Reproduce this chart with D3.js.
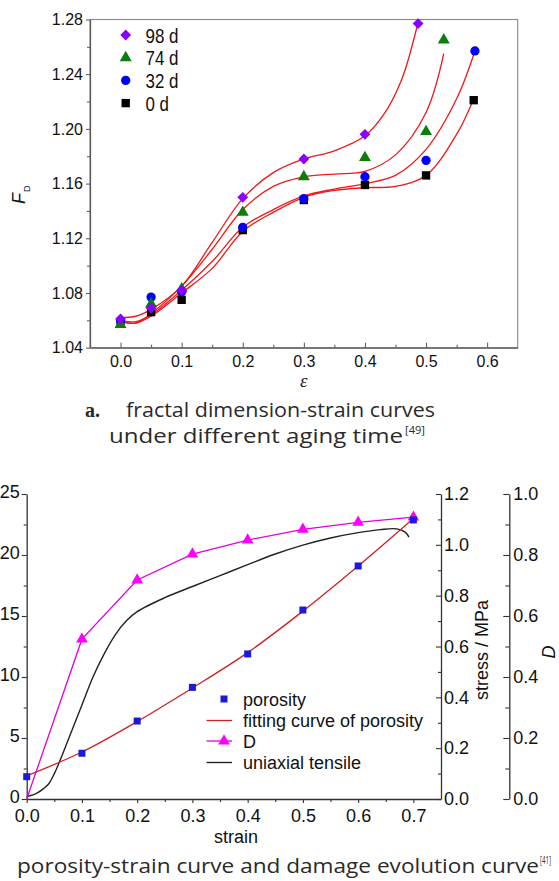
<!DOCTYPE html>
<html>
<head>
<meta charset="utf-8">
<script src="https://cdn.jsdelivr.net/npm/d3@7"></script>
<style>
  html, body { margin: 0; padding: 0; background: #fff; }
  svg { display: block; }
</style>
</head>
<body>
<svg id="fig" width="559" height="881"></svg>
<script>
// ---------- panel a: fractal dimension vs strain ----------
const agingLabels = ["98 d", "74 d", "32 d", "0 d"];
const agingColors = ["#8a00ff", "#0a7d0a", "#0000ff", "#000000"];
const agingSymbols = ["diamond", "triangle", "circle", "square"];

// measured points (strain, F_D)
const fd98Strain = [0, 0.05, 0.1, 0.2, 0.3, 0.4, 0.487];
const fd98Value  = [1.061, 1.069, 1.082, 1.150, 1.178, 1.196, 1.277];
const fd74Strain = [0, 0.05, 0.1, 0.2, 0.3, 0.4, 0.5, 0.529];
const fd74Value  = [1.057, 1.072, 1.083, 1.139, 1.165, 1.179, 1.198, 1.265];
const fd32Strain = [0, 0.05, 0.1, 0.2, 0.3, 0.4, 0.5, 0.58];
const fd32Value  = [1.060, 1.077, 1.081, 1.128, 1.149, 1.165, 1.177, 1.257];
const fd0Strain  = [0, 0.05, 0.1, 0.2, 0.3, 0.4, 0.5, 0.578];
const fd0Value   = [1.058, 1.066, 1.075, 1.126, 1.148, 1.159, 1.166, 1.221];

// fitted curves (strain, F_D)
const fit98Strain = [0, 0.025, 0.05, 0.1, 0.15, 0.2, 0.25, 0.3, 0.35, 0.4, 0.43, 0.46, 0.487];
const fit98Value  = [1.062, 1.063, 1.068, 1.085, 1.117, 1.149, 1.168, 1.178, 1.184, 1.195, 1.210, 1.236, 1.278];
const fit74Strain = [0, 0.025, 0.05, 0.1, 0.15, 0.2, 0.25, 0.3, 0.35, 0.4, 0.45, 0.5, 0.529];
const fit74Value  = [1.059, 1.058, 1.065, 1.085, 1.112, 1.141, 1.158, 1.165, 1.167, 1.169, 1.181, 1.212, 1.255];
const fit32Strain = [0, 0.025, 0.05, 0.1, 0.15, 0.2, 0.25, 0.3, 0.35, 0.4, 0.45, 0.5, 0.55, 0.58];
const fit32Value  = [1.060, 1.059, 1.064, 1.082, 1.103, 1.128, 1.141, 1.151, 1.156, 1.160, 1.166, 1.185, 1.222, 1.257];
const fit0Strain  = [0, 0.025, 0.05, 0.1, 0.15, 0.2, 0.25, 0.3, 0.35, 0.4, 0.45, 0.5, 0.55, 0.577];
const fit0Value   = [1.059, 1.058, 1.063, 1.080, 1.098, 1.125, 1.139, 1.150, 1.155, 1.157, 1.158, 1.166, 1.196, 1.221];

const fdTicks = [1.04, 1.08, 1.12, 1.16, 1.20, 1.24, 1.28];
const strainTicksA = [0.0, 0.1, 0.2, 0.3, 0.4, 0.5, 0.6];

// ---------- panel b: porosity, stress and damage vs strain ----------
const porStrain = [0, 0.1, 0.2, 0.3, 0.4, 0.5, 0.6, 0.7];
const porosity  = [1.83, 3.75, 6.39, 9.15, 11.89, 15.49, 19.1, 22.87];
const porFit    = [1.9, 3.85, 6.35, 9.1, 12.0, 15.4, 19.1, 23.0];
const damage    = [0, 0.524, 0.718, 0.803, 0.849, 0.884, 0.907, 0.924];
const tensStrain = [0, 0.01, 0.02, 0.03, 0.04, 0.05, 0.06, 0.08, 0.1, 0.12, 0.14, 0.16, 0.18, 0.2,
                    0.25, 0.3, 0.35, 0.4, 0.45, 0.5, 0.55, 0.6, 0.64, 0.67, 0.685, 0.692];
const tensStress = [0.01, 0.015, 0.025, 0.04, 0.06, 0.1, 0.15, 0.26, 0.37, 0.48, 0.57, 0.645, 0.70, 0.737,
                    0.792, 0.836, 0.879, 0.922, 0.964, 0.999, 1.027, 1.048, 1.060, 1.063, 1.05, 1.03];
const porTicks    = [0, 5, 10, 15, 20, 25];
const stressTicks = [0, 0.2, 0.4, 0.6, 0.8, 1.0, 1.2];
const damageTicks = [0, 0.2, 0.4, 0.6, 0.8, 1.0];
const strainTicksB = [0, 0.1, 0.2, 0.3, 0.4, 0.5, 0.6, 0.7];
const legendB = ["porosity", "fitting curve of porosity", "D", "uniaxial tensile"];

const svg = d3.select("#fig");
const SANS = '"Liberation Sans", Arial, sans-serif';
const CAP = '"Open Sans", Lato, sans-serif';

// rotated-square marker, r = half diagonal
const diamondPath = r => `M0,${-r}L${r},0L0,${r}L${-r},0Z`;
const symTypes = { triangle: d3.symbolTriangle, circle: d3.symbolCircle, square: d3.symbolSquare };
const symSizes = { triangle: 62, circle: 68, square: 70 };
const markerPath = s => s === "diamond" ? diamondPath(5.4) : d3.symbol().type(symTypes[s]).size(symSizes[s])();

// ================= panel a =================
const A = { l: 90, r: 517.7, t: 19.5, b: 347.7 };
const xA = d3.scaleLinear().domain([-0.05, 0.65]).range([A.l, A.r]);
const yA = d3.scaleLinear().domain([1.04, 1.28]).range([A.b, A.t]);
const gA = svg.append("g");

// frame
gA.append("rect").attr("x", A.l).attr("y", A.t).attr("width", A.r - A.l).attr("height", A.b - A.t)
  .attr("fill", "none").attr("stroke", "#888").attr("stroke-width", 1.1);

const yAxisA = d3.axisLeft(yA).tickValues(fdTicks).tickFormat(d3.format(".2f")).tickSize(4).tickSizeOuter(0).tickPadding(3);
const yMinorA = d3.axisLeft(yA).tickValues(d3.range(1.06, 1.28, 0.04)).tickFormat("").tickSize(3).tickSizeOuter(0);
const xAxisA = d3.axisBottom(xA).tickValues(strainTicksA).tickFormat(d3.format(".1f")).tickSizeInner(-5).tickSizeOuter(0).tickPadding(8);
const xMinorA = d3.axisBottom(xA).tickValues(d3.range(0.05, 0.6, 0.1)).tickFormat("").tickSizeInner(-3).tickSizeOuter(0);

function styleAxis(g, fs) {
  g.select(".domain").attr("stroke", "#555").attr("stroke-width", 1.2);
  g.selectAll(".tick line").attr("stroke", "#555").attr("stroke-width", 1);
  g.selectAll(".tick text").style("font-size", fs + "px").style("font-family", SANS).attr("fill", "#111");
}
gA.append("g").attr("transform", `translate(${A.l},0)`).call(yAxisA).call(g => styleAxis(g, 16));
gA.append("g").attr("transform", `translate(${A.l},0)`).call(yMinorA).call(g => styleAxis(g, 16)).select(".domain").remove();
gA.append("g").attr("transform", `translate(0,${A.b})`).call(xAxisA).call(g => styleAxis(g, 16));
gA.append("g").attr("transform", `translate(0,${A.b})`).call(xMinorA).call(g => styleAxis(g, 16)).select(".domain").remove();

// axis titles
const fLab = gA.append("text").attr("transform", "translate(25,204) rotate(-90)")
  .style("font-family", SANS).style("font-size", "18px").style("font-style", "italic").attr("fill", "#111");
fLab.append("tspan").text("F");
fLab.append("tspan").text("D").style("font-size", "9px").style("font-style", "normal").attr("dx", "1").attr("dy", "5");
gA.append("text").attr("x", xA(0.3)).attr("y", 387).attr("text-anchor", "middle")
  .style("font-family", '"Liberation Serif", serif').style("font-size", "19px").style("font-style", "italic")
  .attr("fill", "#222").text("ε");

// fitted curves
const fitSets = [[fit98Strain, fit98Value], [fit74Strain, fit74Value], [fit32Strain, fit32Value], [fit0Strain, fit0Value]];
const lineA = d3.line().x(d => xA(d[0])).y(d => yA(d[1])).curve(d3.curveCatmullRom.alpha(0.5));
fitSets.forEach(([xs, ys]) => {
  gA.append("path").datum(d3.zip(xs, ys)).attr("d", lineA)
    .attr("fill", "none").attr("stroke", "#f01818").attr("stroke-width", 1.3);
});

// markers, lower series first so the upper ones sit on top
const pointSets = [[fd98Strain, fd98Value], [fd74Strain, fd74Value], [fd32Strain, fd32Value], [fd0Strain, fd0Value]];
[3, 2, 1, 0].forEach(i => {
  const [xs, ys] = pointSets[i];
  gA.append("g").selectAll("path").data(d3.zip(xs, ys)).join("path")
    .attr("transform", d => `translate(${xA(d[0])},${yA(d[1])})`)
    .attr("d", markerPath(agingSymbols[i])).attr("fill", agingColors[i]);
});

// legend
const legWidths = [33, 33, 33, 23.5];
agingLabels.forEach((lab, i) => {
  const y = 35 + i * 22.7;
  gA.append("path").attr("transform", `translate(125.7,${y})`)
    .attr("d", markerPath(agingSymbols[i])).attr("fill", agingColors[i]);
  gA.append("text").attr("x", 145.5).attr("y", y + 7.5).text(lab)
    .attr("textLength", legWidths[i]).attr("lengthAdjust", "spacingAndGlyphs")
    .style("font-family", SANS).style("font-size", "21px").attr("fill", "#111");
});

// caption a
const capA1 = svg.append("g").style("font-family", CAP).style("font-size", "20px").attr("fill", "#2a2a2a");
capA1.append("text").attr("x", 85).attr("y", 417).text("a.")
  .style("font-family", '"Liberation Serif", serif').style("font-weight", "bold");
capA1.append("text").attr("x", 126).attr("y", 417).text("fractal dimension-strain curves")
  .attr("textLength", 309).attr("lengthAdjust", "spacingAndGlyphs");
capA1.append("text").attr("x", 109).attr("y", 443).text("under different aging time")
  .attr("textLength", 294).attr("lengthAdjust", "spacingAndGlyphs");
capA1.append("text").attr("x", 405).attr("y", 434).text("[49]").style("font-size", "11px")
  .attr("textLength", 20).attr("lengthAdjust", "spacingAndGlyphs");

// ================= panel b =================
const B = { l: 26.7, r: 441, t: 494, b: 799 };
const xB = d3.scaleLinear().domain([0, 0.75]).range([B.l, B.r]);
const yP = d3.scaleLinear().domain([0, 25]).range([B.b, B.t]);
const yS = d3.scaleLinear().domain([0, 1.2]).range([B.b, B.t]);
const yD = d3.scaleLinear().domain([0, 1]).range([B.b, B.t]);
const gB = svg.append("g");

function styleB(g) {
  g.select(".domain").attr("stroke", "#333").attr("stroke-width", 1.3);
  g.selectAll(".tick line").attr("stroke", "#333").attr("stroke-width", 1.1);
  g.selectAll(".tick text").style("font-size", "18px").style("font-family", SANS).attr("fill", "#111");
}
// left porosity axis
gB.append("g").attr("transform", `translate(${B.l},0)`)
  .call(d3.axisLeft(yP).tickValues(porTicks).tickSize(5).tickSizeOuter(0).tickPadding(2)).call(styleB)
  .selectAll(".tick text").attr("dy", "0.22em");
gB.append("g").attr("transform", `translate(${B.l},0)`)
  .call(d3.axisLeft(yP).tickValues(d3.range(2.5, 25, 5)).tickFormat("").tickSize(3).tickSizeOuter(0))
  .call(styleB).select(".domain").remove();
// bottom strain axis
gB.append("g").attr("transform", `translate(0,${B.b})`)
  .call(d3.axisBottom(xB).tickValues(strainTicksB).tickFormat(d3.format(".1f")).tickSize(4).tickSizeOuter(0).tickPadding(6)).call(styleB);
gB.append("g").attr("transform", `translate(0,${B.b})`)
  .call(d3.axisBottom(xB).tickValues(d3.range(0.05, 0.75, 0.1)).tickFormat("").tickSize(3).tickSizeOuter(0))
  .call(styleB).select(".domain").remove();
gB.append("text").attr("x", 236).attr("y", 843).attr("text-anchor", "middle")
  .style("font-family", SANS).style("font-size", "18px").attr("fill", "#111").text("strain");

// right stress axis
gB.append("g").attr("transform", `translate(${B.r},0)`)
  .call(d3.axisRight(yS).tickValues(stressTicks).tickFormat(d3.format(".1f")).tickSizeInner(-5).tickSizeOuter(0).tickPadding(3)).call(styleB);
gB.append("g").attr("transform", `translate(${B.r},0)`)
  .call(d3.axisRight(yS).tickValues(d3.range(0.1, 1.2, 0.2)).tickFormat("").tickSizeInner(-3).tickSizeOuter(0))
  .call(styleB).select(".domain").remove();
gB.append("text").attr("transform", "translate(488,650) rotate(-90)").attr("text-anchor", "middle")
  .style("font-family", SANS).style("font-size", "18px").attr("fill", "#111").text("stress / MPa");

// right damage axis
const dX = 509.3;
gB.append("g").attr("transform", `translate(${dX},0)`)
  .call(d3.axisRight(yD).tickValues(damageTicks).tickFormat(d3.format(".1f")).tickSizeInner(-6).tickSizeOuter(0).tickPadding(4)).call(styleB);
gB.append("g").attr("transform", `translate(${dX},0)`)
  .call(d3.axisRight(yD).tickValues(d3.range(0.1, 1.0, 0.2)).tickFormat("").tickSizeInner(-4).tickSizeOuter(0))
  .call(styleB).select(".domain").remove();
gB.append("text").attr("transform", "translate(555,652) rotate(-90)").attr("text-anchor", "middle")
  .style("font-family", SANS).style("font-size", "18px").style("font-style", "italic").attr("fill", "#111").text("D");

// uniaxial tensile stress curve
gB.append("path").datum(d3.zip(tensStrain, tensStress))
  .attr("d", d3.line().x(d => xB(d[0])).y(d => yS(d[1])).curve(d3.curveCatmullRom.alpha(0.5)))
  .attr("fill", "none").attr("stroke", "#222").attr("stroke-width", 1.4);

// damage D line with triangles
gB.append("path").datum(d3.zip(porStrain, damage))
  .attr("d", d3.line().x(d => xB(d[0])).y(d => yD(d[1])))
  .attr("fill", "none").attr("stroke", "#e000e0").attr("stroke-width", 1.3);
gB.append("g").selectAll("path").data(d3.zip(porStrain, damage).slice(1)).join("path")
  .attr("transform", d => `translate(${xB(d[0])},${yD(d[1])})`)
  .attr("d", d3.symbol().type(d3.symbolTriangle).size(60)).attr("fill", "#ff00ff");

// porosity fit and points
gB.append("path").datum(d3.zip(porStrain, porFit))
  .attr("d", d3.line().x(d => xB(d[0])).y(d => yP(d[1])).curve(d3.curveCatmullRom.alpha(0.5)))
  .attr("fill", "none").attr("stroke", "#d02020").attr("stroke-width", 1.3);
gB.append("g").selectAll("rect").data(d3.zip(porStrain, porosity)).join("rect")
  .attr("x", d => xB(d[0]) - 3.5).attr("y", d => yP(d[1]) - 3.5).attr("width", 7).attr("height", 7)
  .attr("fill", "#1a1ad8");

// legend b
const legY = [699, 720.5, 741, 762.5];
const lg = gB.append("g");
lg.append("rect").attr("x", 220.5).attr("y", legY[0] - 3.5).attr("width", 7).attr("height", 7).attr("fill", "#1a1ad8");
lg.append("line").attr("x1", 206.5).attr("x2", 232).attr("y1", legY[1]).attr("y2", legY[1]).attr("stroke", "#d02020").attr("stroke-width", 1.3);
lg.append("line").attr("x1", 206.5).attr("x2", 232).attr("y1", legY[2]).attr("y2", legY[2]).attr("stroke", "#e000e0").attr("stroke-width", 1.3);
lg.append("path").attr("transform", `translate(224,${legY[2]})`).attr("d", d3.symbol().type(d3.symbolTriangle).size(60)()).attr("fill", "#ff00ff");
lg.append("line").attr("x1", 206.5).attr("x2", 232).attr("y1", legY[3]).attr("y2", legY[3]).attr("stroke", "#222").attr("stroke-width", 1.4);
legendB.forEach((t, i) => {
  lg.append("text").attr("x", 243).attr("y", legY[i] + 6.5).text(t)
    .style("font-family", SANS).style("font-size", "18px").attr("fill", "#111");
});

// caption b
const capB = svg.append("g").style("font-family", CAP).style("font-size", "20px").attr("fill", "#2a2a2a");
capB.append("text").attr("x", 17).attr("y", 873).text("porosity-strain curve and damage evolution curve")
  .attr("textLength", 522).attr("lengthAdjust", "spacingAndGlyphs");
capB.append("text").attr("x", 540).attr("y", 864).text("[41]").style("font-size", "10px")
  .attr("textLength", 11).attr("lengthAdjust", "spacingAndGlyphs");
</script>
</body>
</html>
